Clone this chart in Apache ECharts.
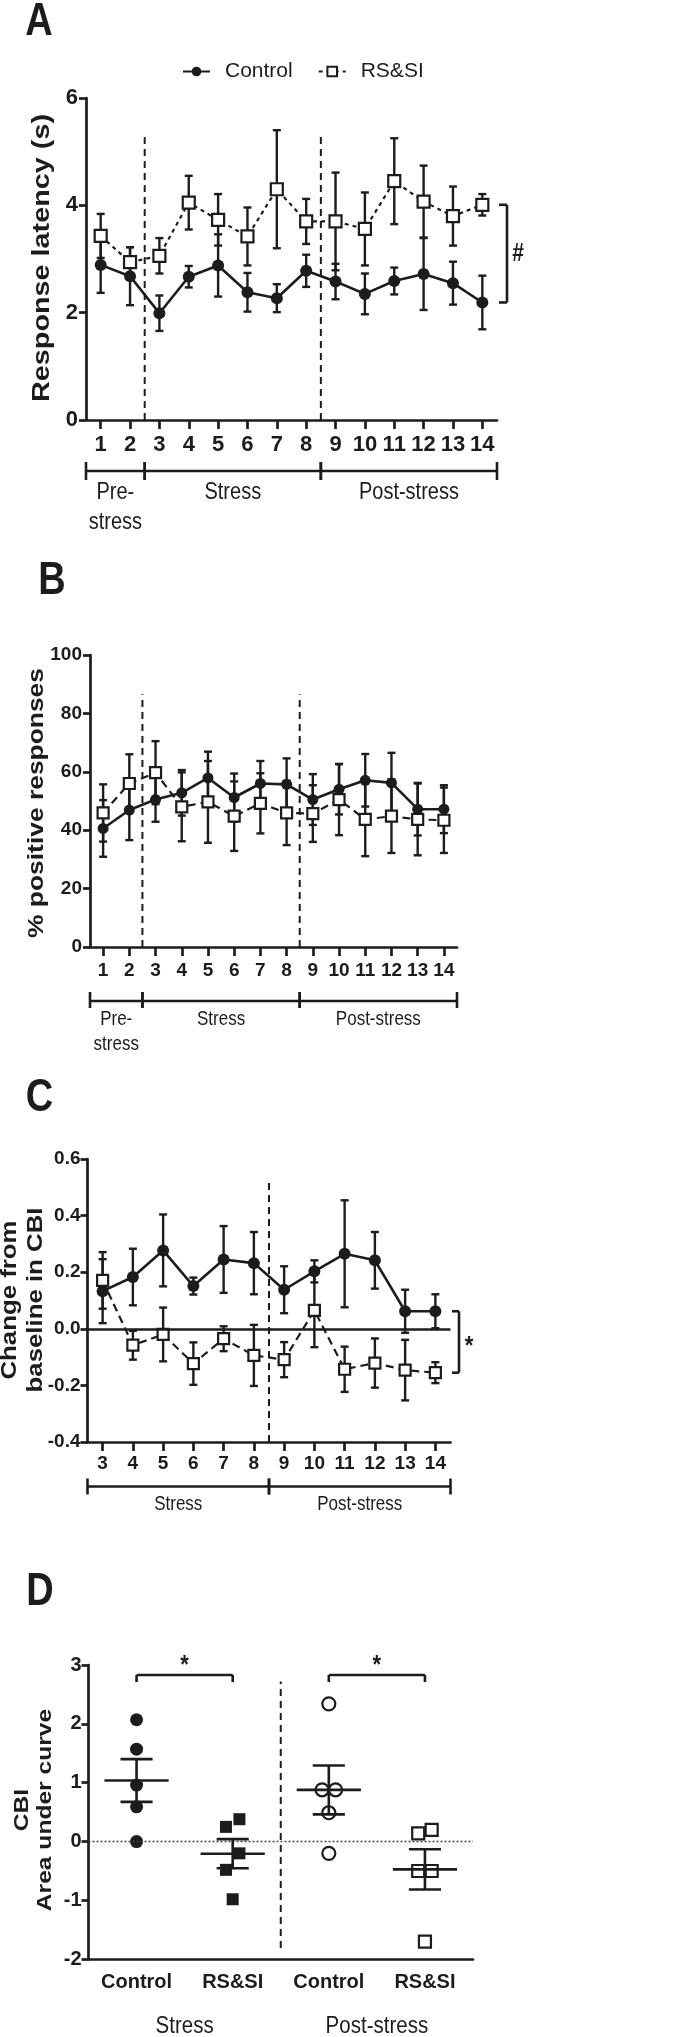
<!DOCTYPE html>
<html><head><meta charset="utf-8">
<script src="https://cdn.jsdelivr.net/npm/echarts@6/dist/echarts.min.js"></script>
<style>html,body{margin:0;padding:0;background:#fff}#c{width:688px;height:2037px}</style>
</head><body><div id="c"></div><script>
// ---------------- DATA ----------------
const sessionsAB = [1,2,3,4,5,6,7,8,9,10,11,12,13,14];
const sessionsC = [3,4,5,6,7,8,9,10,11,12,13,14];
const seriesNames = ['Control','RS&SI'];

// Panel A: response latency (s)
const ctrlA     = [2.89,2.68,1.99,2.67,2.88,2.38,2.27,2.78,2.58,2.35,2.59,2.72,2.55,2.19];
const ctrlA_sem = [0.52,0.54,0.33,0.20,0.58,0.36,0.26,0.30,0.33,0.38,0.25,0.67,0.40,0.50];
const rssiA     = [3.43,2.94,3.06,4.05,3.73,3.42,4.30,3.70,3.70,3.56,4.45,4.07,3.80,4.01];
const rssiA_sem = [0.41,0.28,0.33,0.50,0.48,0.54,1.10,0.42,0.91,0.68,0.80,0.67,0.55,0.20];

// Panel B: % positive responses
const ctrlB     = [40.6,46.9,50.5,52.8,57.9,51.2,56.0,55.7,50.5,54.0,57.1,56.2,47.2,47.2];
const ctrlB_sem = [9.7,10.3,7.6,7.8,9.0,8.2,7.7,8.9,8.7,8.6,9.0,10.3,9.0,8.2];
const rssiB     = [45.9,56.0,59.7,48.0,49.7,44.8,49.2,45.9,45.7,50.5,43.7,44.8,43.7,43.4];
const rssiB_sem = [9.8,10.0,10.8,11.8,14.0,11.9,10.3,11.0,9.7,12.2,12.6,12.6,12.3,11.2];

// Panel C: change from baseline in CBI
const ctrlC     = [0.133,0.183,0.277,0.151,0.245,0.232,0.138,0.203,0.265,0.242,0.062,0.062];
const ctrlC_sem = [0.113,0.100,0.127,0.030,0.118,0.110,0.083,0.039,0.189,0.100,0.076,0.060];
const rssiC     = [0.171,-0.058,-0.020,-0.123,-0.035,-0.094,-0.109,0.065,-0.143,-0.121,-0.146,-0.155];
const rssiC_sem = [0.100,0.051,0.095,0.075,0.044,0.108,0.062,0.130,0.080,0.087,0.107,0.037];

// Panel D: CBI area under curve (individual animals)
const groupsD = ['Control','RS&SI','Control','RS&SI'];
const dCtrlStress = [2.07,1.57,0.96,0.59,0.00];
const dRssiStress = [0.38,0.25,-0.20,-0.48,-0.98];
const dCtrlPost   = [2.34,0.88,0.88,0.49,-0.20];
const dRssiPost   = [0.20,0.14,-0.50,-0.50,-1.70];

// Tick labels
const yTicksA = [0,2,4,6];
const yTicksB = [0,20,40,60,80,100];
const yTicksC = [-0.4,-0.2,0.0,0.2,0.4,0.6];
const yTicksD = [-2,-1,0,1,2,3];

// Phases
const phaseBoundsAB = [0.5,2.5,8.5,14.5];
const phaseLabelsAB = ['Pre-\nstress','Stress','Post-stress'];
const phaseBoundsC  = [2.5,8.5,14.5];
const phaseLabelsC  = ['Stress','Post-stress'];
const phaseLabelsD  = ['Stress','Post-stress'];
const dividersAB = [2.5,8.5];
const dividersC  = [8.5];
const dividersD  = [2.5];
const sigMarkA = '#';
const sigMarkC = '*';
const sigPairsD = [[1,2],[3,4]];

// ---------------- STYLE ----------------
const INK = '#1c1c1c';
const FONT = '"Liberation Sans",Arial,Helvetica,sans-serif';
const AX_W = 2.7;
const STRETCH = 1.2;

function cleanNum(v){ return Math.abs(v) < 1e-9 ? 0 : v; }

function yAxisCfg(gi, ticks, fs, margin, fmt){
  return {type:'value', gridIndex:gi, min:ticks[0], max:ticks[ticks.length-1], interval:ticks[1]-ticks[0],
    axisLine:{show:true, onZero:false, lineStyle:{color:INK, width:AX_W}},
    axisTick:{show:true, length:7, lineStyle:{color:INK, width:AX_W}},
    axisLabel:{margin:margin, fontFamily:FONT, fontWeight:'bold', fontSize:fs, color:INK, hideOverlap:false,
      formatter: fmt || (v => String(cleanNum(v)))},
    splitLine:{show:false}};
}
function xAxisCfg(gi, min, max, ticks, fs, margin, showTick, fmt){
  return {type:'value', gridIndex:gi, min:min, max:max,
    axisLine:{show:true, onZero:false, lineStyle:{color:INK, width:AX_W}},
    axisTick:{show:showTick, length:9, customValues:ticks, lineStyle:{color:INK, width:AX_W}},
    axisLabel:{customValues:ticks, margin:margin, fontFamily:FONT, fontWeight:'bold', fontSize:fs, color:INK,
      hideOverlap:false, formatter: fmt || (v => String(v))},
    splitLine:{show:false}};
}
function lineSeries(name, gi, xs, ys, filled, dash, size){
  return {name:name, type:'line', xAxisIndex:gi, yAxisIndex:gi, silent:true,
    data: xs.map((x,i)=>[x, ys[i]]),
    symbol: filled ? 'circle' : 'rect', symbolSize:size, showSymbol:true,
    lineStyle:{color:INK, width: filled ? 2.6 : 2.2, type: filled ? 'solid' : dash},
    itemStyle:{color: filled ? INK : '#fff', borderColor:INK, borderWidth: filled ? 0 : 2.2, opacity:1},
    z: filled ? 4 : 3};
}
function errBars(gi, xs, means, sems, cap){
  return {type:'custom', xAxisIndex:gi, yAxisIndex:gi, silent:true, clip:false, z:2,
    data: xs.map((x,i)=>[x, means[i], sems[i]]), encode:{x:0, y:1},
    renderItem:(p, api)=>{
      const x=api.value(0), m=api.value(1), s=api.value(2);
      const t=api.coord([x, m+s]), b=api.coord([x, m-s]);
      const st={stroke:INK, lineWidth:2.4};
      return {type:'group', children:[
        {type:'line', shape:{x1:t[0],y1:t[1],x2:b[0],y2:b[1]}, style:st},
        {type:'line', shape:{x1:t[0]-cap,y1:t[1],x2:t[0]+cap,y2:t[1]}, style:st},
        {type:'line', shape:{x1:b[0]-cap,y1:b[1],x2:b[0]+cap,y2:b[1]}, style:st}]};
    }};
}
function dividerSeries(gi, xs, y0, y1){
  return {type:'custom', xAxisIndex:gi, yAxisIndex:gi, silent:true, clip:false, z:1,
    data: xs.map(x=>[x, y0, y1]), encode:{x:0, y:1},
    renderItem:(p, api)=>{
      const a=api.coord([api.value(0), api.value(1)]), b=api.coord([api.value(0), api.value(2)]);
      return {type:'line', shape:{x1:a[0],y1:a[1],x2:b[0],y2:b[1]},
        style:{stroke:INK, lineWidth:2, lineDash:[7,5]}};
    }};
}
function phaseSeries(gi, bounds, labels, yMin, off, tickUp, tickDn, labTop, fs, lh){
  return {type:'custom', xAxisIndex:gi, yAxisIndex:gi, silent:true, clip:false, z:1,
    data: labels.map((l,i)=>[bounds[i], bounds[i+1], yMin]), encode:{x:0, y:2},
    renderItem:(p, api)=>{
      const a=api.coord([api.value(0), api.value(2)]), b=api.coord([api.value(1), api.value(2)]);
      const y=a[1]+off;
      const st={stroke:INK, lineWidth:2.6};
      return {type:'group', children:[
        {type:'line', shape:{x1:a[0],y1:y,x2:b[0],y2:y}, style:st},
        {type:'line', shape:{x1:a[0],y1:y-tickUp,x2:a[0],y2:y+tickDn}, style:st},
        {type:'line', shape:{x1:b[0],y1:y-tickUp,x2:b[0],y2:y+tickDn}, style:st},
        {type:'text', x:(a[0]+b[0])/2, y:y+labTop, scaleY:STRETCH,
          style:{text:labels[p.dataIndex], fill:INK, fontFamily:FONT, fontSize:fs, fontWeight:'normal',
            lineHeight:lh, align:'center', verticalAlign:'top'}}]};
    }};
}
function sigSeries(gi, xMax, yTop, yBot, dx, tick, mark, fs, markDx, markDy){
  return {type:'custom', xAxisIndex:gi, yAxisIndex:gi, silent:true, clip:false, z:1,
    data:[[xMax, yTop, yBot]], encode:{x:0, y:1},
    renderItem:(p, api)=>{
      const t=api.coord([api.value(0), api.value(1)]), b=api.coord([api.value(0), api.value(2)]);
      const x=t[0]+dx;
      const st={stroke:INK, lineWidth:2.6};
      return {type:'group', children:[
        {type:'line', shape:{x1:x,y1:t[1],x2:x,y2:b[1]}, style:st},
        {type:'line', shape:{x1:x-tick,y1:t[1],x2:x,y2:t[1]}, style:st},
        {type:'line', shape:{x1:x-tick,y1:b[1],x2:x,y2:b[1]}, style:st},
        {type:'text', x:x+markDx, y:(t[1]+b[1])/2 + markDy, scaleY:STRETCH,
          style:{text:mark, fill:INK, fontFamily:FONT, fontSize:fs, fontWeight:'bold', align:'center', verticalAlign:'middle'}}]};
    }};
}
// swarm offsets: points closer than thr (value units) placed side by side
function swarm(vals, thr, step){
  const idx = vals.map((v,i)=>i).sort((a,b)=>vals[b]-vals[a]);
  const off = vals.map(()=>0);
  const groups=[]; let g=[idx[0]];
  for(let k=1;k<idx.length;k++){
    if(vals[g[g.length-1]]-vals[idx[k]] < thr) g.push(idx[k]); else {groups.push(g); g=[idx[k]];}
  }
  groups.push(g);
  groups.forEach(gr=>{ const n=gr.length; gr.forEach((ii,j)=>{ off[ii]=((n-1)/2 - j)*step; }); });
  return off;
}
function meanSem(v){
  const n=v.length, m=v.reduce((a,b)=>a+b,0)/n;
  const sd=Math.sqrt(v.reduce((a,b)=>a+(b-m)*(b-m),0)/(n-1));
  return [m, sd/Math.sqrt(n)];
}
function dotSeries(gi, cat, vals, symbol, filled){
  const off = swarm(vals, 0.3, 0.14);
  return {type:'scatter', xAxisIndex:gi, yAxisIndex:gi, silent:true, z:3,
    data: vals.map((v,i)=>[cat+off[i], v]), symbol:symbol, symbolSize: symbol==='rect'?12:13,
    itemStyle:{color: filled?INK:'#fff', borderColor:INK, borderWidth: filled?0:2.2, opacity:1}};
}

// ---------------- BUILD ----------------
const grids = [
  {left:86,  top:98,   width:411,   height:322},
  {left:90,  top:655,  width:367,   height:292},
  {left:87.5,top:1159, width:363,   height:283},
  {left:88.5,top:1665, width:384.5, height:294.3}
];

const xAxes = [
  xAxisCfg(0, 0.5, 14.5, sessionsAB, 22, 14, true),
  xAxisCfg(1, 0.5, 14.5, sessionsAB, 19, 14, true),
  xAxisCfg(2, 2.5, 14.5, sessionsC, 19, 12, true),
  xAxisCfg(3, 0.5, 4.5, [1,2,3,4], 20, 13, false, v => groupsD[Math.round(v)-1])
];
const yAxes = [
  yAxisCfg(0, yTicksA, 22, 8),
  yAxisCfg(1, yTicksB, 19, 8),
  yAxisCfg(2, yTicksC, 19, 7, v => cleanNum(v).toFixed(1)),
  yAxisCfg(3, yTicksD, 20, 7)
];

const statsD = [dCtrlStress, dRssiStress, dCtrlPost, dRssiPost].map(meanSem);

const series = [
  // A
  dividerSeries(0, dividersAB, 0, 5.33),
  errBars(0, sessionsAB, rssiA, rssiA_sem, 4),
  errBars(0, sessionsAB, ctrlA, ctrlA_sem, 4),
  lineSeries(seriesNames[1], 0, sessionsAB, rssiA, false, [4,4], 12),
  lineSeries(seriesNames[0], 0, sessionsAB, ctrlA, true, 'solid', 12),
  phaseSeries(0, phaseBoundsAB, phaseLabelsAB, 0, 51, 9, 9, 6, 20, 25),
  sigSeries(0, 14.5, rssiA[13], ctrlA[13], 10, 8, sigMarkA, 21, 11, 0),
  // B
  dividerSeries(1, dividersAB, 0, 86.6),
  errBars(1, sessionsAB, rssiB, rssiB_sem, 4),
  errBars(1, sessionsAB, ctrlB, ctrlB_sem, 4),
  lineSeries(seriesNames[1], 1, sessionsAB, rssiB, false, [8,5], 11),
  lineSeries(seriesNames[0], 1, sessionsAB, ctrlB, true, 'solid', 11),
  phaseSeries(1, phaseBoundsAB, phaseLabelsAB, 0, 54, 9, 7, 5, 17, 21.5),
  // C
  dividerSeries(2, dividersC, -0.4, 0.518),
  errBars(2, sessionsC, rssiC, rssiC_sem, 4),
  errBars(2, sessionsC, ctrlC, ctrlC_sem, 4),
  Object.assign(lineSeries(seriesNames[1], 2, sessionsC, rssiC, false, [8,5], 11), {
    markLine:{silent:true, symbol:['none','none'], label:{show:false},
      lineStyle:{color:INK, width:2.6, type:'solid'}, data:[{yAxis:0}]}}),
  lineSeries(seriesNames[0], 2, sessionsC, ctrlC, true, 'solid', 12),
  phaseSeries(2, phaseBoundsC, phaseLabelsC, -0.4, 44.5, 8, 8, 5, 17, 21),
  sigSeries(2, 14.5, ctrlC[11], rssiC[11], 8.5, 7, sigMarkC, 22, 10, 5),
  // D
  dividerSeries(3, dividersD, -1.81, 2.72),
  Object.assign(dotSeries(3, 1, dCtrlStress, 'circle', true), {
    markLine:{silent:true, symbol:['none','none'], label:{show:false},
      lineStyle:{color:'#444', width:1.3, type:[2,2]}, data:[{yAxis:0}]}}),
  dotSeries(3, 2, dRssiStress, 'rect', true),
  dotSeries(3, 3, dCtrlPost, 'circle', false),
  dotSeries(3, 4, dRssiPost, 'rect', false),
  {type:'custom', xAxisIndex:3, yAxisIndex:3, silent:true, clip:false, z:5,
    data: statsD.map((s,i)=>[i+1, s[0], s[1]]), encode:{x:0, y:1},
    renderItem:(p, api)=>{
      const x=api.value(0), m=api.value(1), s=api.value(2);
      const L=api.coord([x-0.334,m]), R=api.coord([x+0.334,m]);
      const T=api.coord([x,m+s]), B=api.coord([x,m-s]);
      const cw=(R[0]-L[0])/4;
      const st={stroke:INK, lineWidth:2.6};
      return {type:'group', children:[
        {type:'line', shape:{x1:L[0],y1:L[1],x2:R[0],y2:R[1]}, style:st},
        {type:'line', shape:{x1:T[0],y1:T[1],x2:B[0],y2:B[1]}, style:st},
        {type:'line', shape:{x1:T[0]-cw,y1:T[1],x2:T[0]+cw,y2:T[1]}, style:st},
        {type:'line', shape:{x1:B[0]-cw,y1:B[1],x2:B[0]+cw,y2:B[1]}, style:st}]};
    }},
  // D significance brackets
  {type:'custom', xAxisIndex:3, yAxisIndex:3, silent:true, clip:false, z:5,
    data: sigPairsD.map(pr=>[pr[0], pr[1], 2.83, 2.71]), encode:{x:0, y:2},
    renderItem:(p, api)=>{
      const a=api.coord([api.value(0), api.value(2)]), b=api.coord([api.value(1), api.value(2)]);
      const d=api.coord([api.value(0), api.value(3)]);
      const st={stroke:INK, lineWidth:2.6};
      return {type:'group', children:[
        {type:'line', shape:{x1:a[0],y1:a[1],x2:b[0],y2:b[1]}, style:st},
        {type:'line', shape:{x1:a[0],y1:a[1],x2:a[0],y2:d[1]}, style:st},
        {type:'line', shape:{x1:b[0],y1:b[1],x2:b[0],y2:d[1]}, style:st},
        {type:'text', x:(a[0]+b[0])/2, y:a[1]-9, scaleY:STRETCH,
          style:{text:'*', fill:INK, fontFamily:FONT, fontSize:22, fontWeight:'bold', align:'center', verticalAlign:'middle'}}]};
    }},
  // D phase labels
  {type:'custom', xAxisIndex:3, yAxisIndex:3, silent:true, clip:false, z:5,
    data: phaseLabelsD.map((l,i)=>[2*i+1.5, -2]), encode:{x:0, y:1},
    renderItem:(p, api)=>{
      const c=api.coord([api.value(0), api.value(1)]);
      return {type:'text', x:c[0], y:c[1]+67, scaleY:STRETCH,
        style:{text:phaseLabelsD[p.dataIndex], fill:INK, fontFamily:FONT, fontSize:20.5, align:'center', verticalAlign:'middle'}};
    }}
];

function letter(x, y, t){
  return {type:'text', x:x, y:y, scaleY:STRETCH, silent:true,
    style:{text:t, fill:INK, fontFamily:FONT, fontWeight:'bold', fontSize:38, align:'center', verticalAlign:'middle'}};
}
function vTitle(x, y, text, size, lh){
  return {type:'text', x:x, y:y, rotation:Math.PI/2, scaleX:STRETCH, silent:true,
    style:{text:text, fill:INK, fontFamily:FONT, fontWeight:'bold', fontSize:size,
      lineHeight: lh || size*1.2, align:'center', verticalAlign:'middle'}};
}

const option = {
  animation:false,
  backgroundColor:'#fff',
  grid: grids,
  xAxis: xAxes,
  yAxis: yAxes,
  legend:{data:seriesNames, left:177, top:56, itemWidth:27, itemHeight:12, itemGap:25, selectedMode:false,
    textStyle:{fontFamily:FONT, fontSize:21, color:INK, padding:[0,0,0,10]}},
  graphic: [
    letter(39, 22, 'A'),
    letter(52, 581, 'B'),
    letter(39.5, 1098, 'C'),
    letter(40, 1592, 'D'),
    vTitle(42, 258, 'Response latency (s)', 24),
    vTitle(37, 803, '% positive responses', 22),
    vTitle(23, 1300, 'Change from\nbaseline in CBI', 21.5, 26),
    vTitle(34, 1810, 'CBI\nArea under curve', 20.5, 23)
  ],
  series: series
};
const chart = echarts.init(document.getElementById('c'), null, {renderer:'canvas', width:688, height:2037});
chart.setOption(option);
</script></body></html>
